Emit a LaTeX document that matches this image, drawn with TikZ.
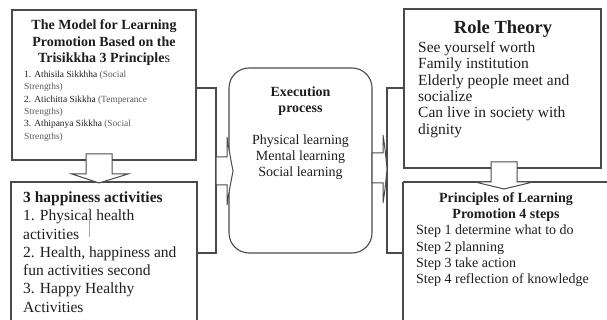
\documentclass[tikz,border=0pt]{standalone}
\usepackage{fontspec}
\setmainfont{Liberation Serif}
\begin{document}
\begin{tikzpicture}[x=1pt,y=-1pt,
  box/.style={draw=boxline,line width=1.1pt},
  blockarrow/.style={draw=boxline,line width=1pt,fill=white,line join=miter},
  bracket/.style={draw=boxline,line width=1.1pt},
  txt/.style={inner sep=0pt,text=ink},
]
\definecolor{boxline}{HTML}{4A4A4A}
\definecolor{ink}{HTML}{1E1E1E}
\definecolor{soft}{HTML}{5A5A5A}
\useasboundingbox[fill=white] (0,0) rectangle (607,320);
\clip (0,0) rectangle (607,320);

% ---------- boxes ----------
\draw[box] (12,10) rectangle (196,160);
\draw[box] (11,182) rectangle (197,330);
\draw[box,rounded corners=20pt] (229,68) rectangle (372,253);
\draw[box] (404,9) rectangle (601,168);
\draw[box] (403,182) -- (612,182);
\draw[box] (403,182) -- (403,330);

% ---------- brackets joining the side boxes ----------
\draw[bracket] (196,88) -- (216,88) -- (216,253) -- (197,253);
\draw[bracket] (404,88) -- (387,88) -- (387,253) -- (403,253);

% ---------- block arrows ----------
% left column: downwards
\draw[blockarrow] (86,154) -- (112,154) -- (112,174) -- (128,174) -- (99,183)
  -- (72,174) -- (86,174) -- cycle;
% right column: downwards
\draw[blockarrow] (491,162) -- (517,162) -- (517,182) -- (533,182) -- (504,189)
  -- (475,182) -- (491,182) -- cycle;
% into the execution process
\draw[blockarrow] (216,157) -- (227,157) -- (227,137)
  .. controls (229,150) .. (233,171)
  .. controls (229,192) .. (227,205) -- (227,185) -- (216,185) -- cycle;
% out of the execution process
\draw[blockarrow] (372,153) -- (383,153) -- (383,135)
  .. controls (385,148) .. (387,169)
  .. controls (385,190) .. (383,203) -- (383,183) -- (372,183) -- cycle;

% ---------- texts ----------
\node[txt,anchor=north,align=center,font=\fontsize{14}{16.5}\selectfont\bfseries]
  (modeltitle) at (104,19.5)
  {The Model for Learning\\Promotion Based on the\\Trisikkha 3 Principle{\mdseries s}};
\node[txt,anchor=north west,align=left,font=\fontsize{9.4}{12.4}\selectfont]
  (principles) at (24,70.5)
  {1. Athisila Sikkhha {\color{soft}(Social}\\{\color{soft}Strengths)}\\
   2. Atichitta Sikkha {\color{soft}(Temperance}\\{\color{soft}Strengths)}\\
   3. Athipanya Sikkha {\color{soft}(Social}\\{\color{soft}Strengths)}};

\node[txt,anchor=north west,align=left,font=\fontsize{15.5}{18.3}\selectfont]
  (happiness) at (23,191.5)
  {\textbf{3 happiness activities}\\1. Physical health\\activities\\
   2. Health, happiness and\\fun activities second\\3. Happy Healthy\\Activities};
\draw[gray!70,line width=0.5pt] (89,208) -- (89,237);

\node[txt,anchor=north,align=center,font=\fontsize{14}{16}\selectfont]
  (execution) at (300.5,87)
  {\textbf{Execution}\\\textbf{process}\\[16pt]Physical learning\\Mental learning\\Social learning};

\node[txt,anchor=north,font=\fontsize{18.5}{20}\selectfont\bfseries]
  (roletitle) at (503,20)
  {Role Theory};
\node[txt,anchor=north west,align=left,font=\fontsize{15.5}{16.3}\selectfont]
  (role) at (418,41.5)
  {See yourself worth\\Family institution\\Elderly people meet and\\socialize\\
   Can live in society with\\dignity};

\node[txt,anchor=north,align=center,font=\fontsize{14}{16.5}\selectfont\bfseries]
  (steptitle) at (506,192)
  {Principles of Learning\\Promotion 4 steps};
\node[txt,anchor=north west,align=left,font=\fontsize{14}{16.3}\selectfont]
  (steps) at (416,225)
  {Step 1 determine what to do\\Step 2 planning\\Step 3 take action\\Step 4 reflection of knowledge};
\end{tikzpicture}
\end{document}
